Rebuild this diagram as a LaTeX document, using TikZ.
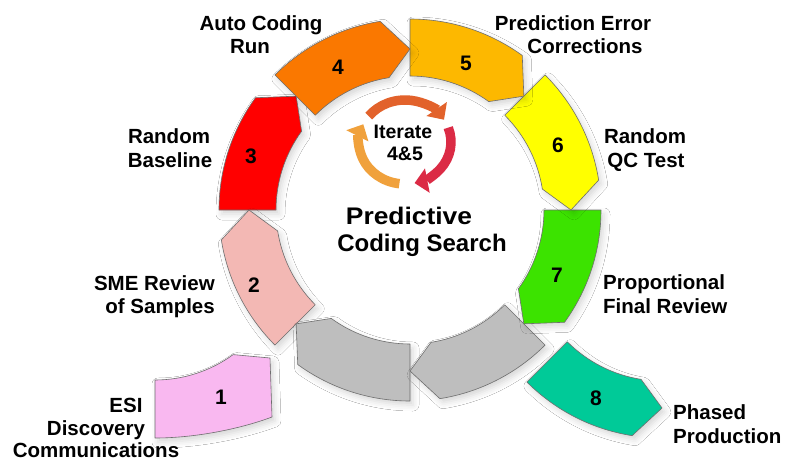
\documentclass[tikz,border=0pt]{standalone}
\usepackage{fontspec}
\setmainfont{Liberation Sans}
\usepackage{graphicx}
\usetikzlibrary{arrows.meta,shadows.blur}

\definecolor{c1}{HTML}{F9B8F0}
\definecolor{c2}{HTML}{F3B8B4}
\definecolor{c3}{HTML}{FF0000}
\definecolor{c4}{HTML}{FA7800}
\definecolor{c5}{HTML}{FDB800}
\definecolor{c6}{HTML}{FFFF00}
\definecolor{c7}{HTML}{3CE300}
\definecolor{c8}{HTML}{00CA98}
\definecolor{cg}{HTML}{BEBEBE}
\definecolor{edgec}{HTML}{6E6E6E}
\definecolor{itA}{HTML}{E2622B}
\definecolor{itB}{HTML}{DB2B45}
\definecolor{itC}{HTML}{F0A13C}

\tikzset{
  seg/.style={draw=edgec, line width=0.6pt, line join=round,
    blur shadow={shadow xshift=3pt, shadow yshift=-4pt, shadow blur radius=6pt, shadow opacity=16}},
  num/.style={font=\bfseries\fontsize{21}{21}\selectfont, inner sep=0pt},
  lbl/.style={font=\bfseries\fontsize{20.5}{23.5}\selectfont, inner sep=0pt},
  ttl/.style={font=\bfseries\fontsize{24}{28}\selectfont, inner sep=0pt},
  itl/.style={font=\bfseries\fontsize{19.5}{22}\selectfont, inner sep=0pt},
  itarrow/.style={line width=9.5pt, -{Triangle[width=24pt,length=13pt]}},
}

% clockwise ring segment: #1 colour, #2 tail angle
\newcommand{\segcw}[2]{%
  \path[seg, fill=#1] (#2:191pt) arc[start angle=#2, end angle=#2-36, radius=191pt]
    -- (#2-45:161pt) -- (#2-36:134pt) arc[start angle=#2-36, end angle=#2, radius=134pt] -- cycle;}

\begin{document}
\begin{tikzpicture}[x=1pt,y=1pt]
\useasboundingbox (0,0) rectangle (785,-461);
\fill[white] (0,0) rectangle (785,-461);

% ring of segments
\begin{scope}[shift={(410,-210)}]
  \segcw{c3}{180}
  \segcw{c2}{225}
  \segcw{cg}{-90}
  \segcw{cg}{-45}
  \segcw{c7}{0}
  \segcw{c6}{45}
  \segcw{c5}{90}
  \segcw{c4}{135}
\end{scope}

% segment 8 (pulled out)
\begin{scope}[shift={(662,-247)}]
  \path[seg, fill=c8] (-135:191pt) arc[start angle=-135, end angle=-99, radius=191pt]
    -- (-90:161pt) -- (-99:134pt) arc[start angle=-99, end angle=-135, radius=134pt] -- cycle;
\end{scope}

% segment 1 (pulled out)
\path[seg, fill=c1] (155,-380) arc[start angle=-90, end angle=-54, radius=133pt]
  -- (270,-358) -- (272,-417) .. controls (240,-429) and (195,-438) .. (155,-438) -- cycle;

% numbers
\node[num] (n1) at (221,-397) {1};
\node[num] (n2) at (254,-285) {2};
\node[num] (n3) at (251,-156) {3};
\node[num] (n4) at (338,-67) {4};
\node[num] (n5) at (466,-63) {5};
\node[num] (n6) at (558,-145) {6};
\node[num] (n7) at (557,-275) {7};
\node[num] (n8) at (596,-398) {8};

% iterate arrows
\begin{scope}[shift={(405,-142)}]
  \draw[itarrow, itA] (142:46pt and 42pt) arc[start angle=142, end angle=32, x radius=46pt, y radius=42pt];
  \draw[itarrow, itB] (20:46pt and 42pt) arc[start angle=20, end angle=-78, x radius=46pt, y radius=42pt];
  \draw[itarrow, itC] (-97:46pt and 42pt) arc[start angle=-97, end angle=-205, x radius=46pt, y radius=42pt];
\end{scope}
\node[itl, anchor=base] (it1) at (403,-138) {Iterate};
\node[itl, anchor=base] (it2) at (405,-160) {4\&5};

% title
\node[ttl, anchor=base] (t1) at (409,-224) {\scalebox{1.1}[1]{Predictive}};
\node[ttl, anchor=base] (t2) at (422,-251) {Coding Search};

% labels
\node[lbl, anchor=base] (l4a) at (261,-30) {Auto Coding};
\node[lbl, anchor=base] (l4b) at (250,-53) {Run};
\node[lbl, anchor=base] (l5a) at (573,-30) {Prediction Error};
\node[lbl, anchor=base] (l5b) at (585,-53) {Corrections};
\node[lbl, anchor=base] (l6a) at (645,-143) {Random};
\node[lbl, anchor=base] (l6b) at (646,-167) {QC Test};
\node[lbl, anchor=base] (l3a) at (169,-143) {Random};
\node[lbl, anchor=base] (l3b) at (170,-167) {Baseline};
\node[lbl, anchor=base east] (l2a) at (215,-290) {SME Review};
\node[lbl, anchor=base east] (l2b) at (215,-313) {of Samples};
\node[lbl, anchor=base] (l1a) at (126,-412) {ESI};
\node[lbl, anchor=base] (l1b) at (96,-435) {Discovery};
\node[lbl, anchor=base] (l1c) at (96,-457) {Communications};
\node[lbl, anchor=base west] (l7a) at (603,-289) {Proportional};
\node[lbl, anchor=base west] (l7b) at (603,-313) {Final Review};
\node[lbl, anchor=base west] (l8a) at (673,-419) {Phased};
\node[lbl, anchor=base west] (l8b) at (673,-443) {Production};
\end{tikzpicture}
\end{document}
